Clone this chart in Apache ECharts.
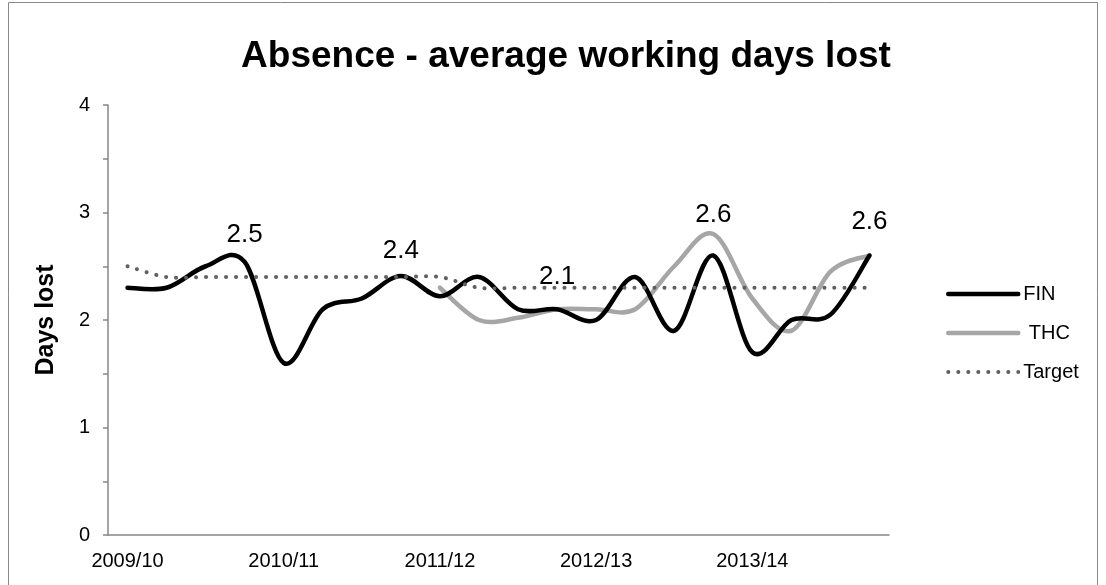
<!DOCTYPE html>
<html><head><meta charset="utf-8">
<script src="https://cdn.jsdelivr.net/npm/echarts@6/dist/echarts.min.js"></script>
<style>html,body{margin:0;padding:0;background:#fff}#c{width:1106px;height:585px}</style>
</head><body><div id="c"></div>
<script>
const categories = ['2009/10','','','','2010/11','','','','2011/12','','','','2012/13','','','','2013/14','','',''];
const finValues = [2.3, 2.3, 2.5, 2.54, 1.6, 2.1, 2.2, 2.41, 2.22, 2.4, 2.1, 2.1, 2.0, 2.4, 1.9, 2.6, 1.7, 2.0, 2.05, 2.6];
const thcValues = [null, null, null, null, null, null, null, null, 2.3, 2.0, 2.02, 2.1, 2.1, 2.1, 2.5, 2.8, 2.2, 1.9, 2.45, 2.6];
const targetValues = [2.5, 2.4, 2.4, 2.4, 2.4, 2.4, 2.4, 2.4, 2.4, 2.3, 2.3, 2.3, 2.3, 2.3, 2.3, 2.3, 2.3, 2.3, 2.3, 2.3];
const labelIndices = [3, 7, 11, 15, 19];
const seriesNames = ['FIN', ' THC', 'Target'];

const FONT = 'Liberation Sans, Arial, sans-serif';
const labelDist = {3: 13, 7: 11, 11: 18, 15: 27, 19: 20};

const styles = [
  {stroke: '#000', lineWidth: 4.5, lineCap: 'round', lineJoin: 'round'},
  {stroke: '#a6a6a6', lineWidth: 4.5, lineCap: 'round', lineJoin: 'round'},
  {stroke: '#606060', lineWidth: 4, lineCap: 'round', lineDash: [0.1, 9.9]}
];
const valueSets = [finValues, thcValues, targetValues];

// Excel-like (Catmull-Rom) smoothed line drawn through the axis scales
function smoothRenderer(values, style) {
  return function (params, api) {
    if (params.dataIndex !== 0) return null;
    const pts = [];
    values.forEach((v, i) => { if (v != null) pts.push(api.coord([i, v])); });
    let d = 'M' + pts[0][0] + ',' + pts[0][1];
    for (let k = 0; k < pts.length - 1; k++) {
      const p0 = pts[Math.max(k - 1, 0)], p1 = pts[k], p2 = pts[k + 1], p3 = pts[Math.min(k + 2, pts.length - 1)];
      const c1 = [p1[0] + (p2[0] - p0[0]) / 6, p1[1] + (p2[1] - p0[1]) / 6];
      const c2 = [p2[0] - (p3[0] - p1[0]) / 6, p2[1] - (p3[1] - p1[1]) / 6];
      d += ' C' + c1[0] + ',' + c1[1] + ' ' + c2[0] + ',' + c2[1] + ' ' + p2[0] + ',' + p2[1];
    }
    return {type: 'path', shape: {pathData: d}, style: Object.assign({fill: 'none'}, style), silent: true};
  };
}

const finData = finValues.map((v, i) => labelIndices.includes(i)
  ? {value: v, label: {show: true, position: 'top', distance: labelDist[i], fontSize: 26, fontFamily: FONT, color: '#000',
      formatter: p => (Math.round(p.value * 10) / 10).toFixed(1)}}
  : v);

const lineSeries = valueSets.map((vals, s) => ({
  name: seriesNames[s], type: 'line', data: s === 0 ? finData : vals,
  showSymbol: s === 0, symbol: 'circle', symbolSize: 2,
  itemStyle: {color: 'rgba(0,0,0,0)'},
  lineStyle: {opacity: 0}, emphasis: {disabled: true}, silent: true, z: 5
}));

const curveSeries = valueSets.map((vals, s) => ({
  name: seriesNames[s], type: 'custom', coordinateSystem: 'cartesian2d',
  data: vals.map((v, i) => [i, v]).filter(p => p[1] != null),
  encode: {x: 0, y: 1},
  renderItem: smoothRenderer(vals, styles[s]),
  silent: true, z: [3, 2, 4][s]
}));

const legendData = seriesNames.map((n, s) => ({
  name: n,
  itemStyle: {opacity: 0},
  lineStyle: {color: styles[s].stroke, width: styles[s].lineWidth, opacity: 1, cap: 'round',
    type: s === 2 ? [0.1, 9.9] : 'solid'}
}));

const chart = echarts.init(document.getElementById('c'), null, {renderer: 'canvas'});
chart.setOption({
  animation: false,
  backgroundColor: '#fff',
  graphic: [{type: 'rect', shape: {x: 8.5, y: 2.5, width: 1089, height: 620}, style: {fill: 'none', stroke: '#888', lineWidth: 1}, silent: true, z: -1}],
  title: {
    text: 'Absence - average working days lost',
    left: 561, top: 33, textAlign: 'center',
    textStyle: {fontFamily: FONT, fontWeight: 'bold', fontSize: 37, color: '#000'}
  },
  legend: {
    orient: 'vertical', left: 941, top: 279,
    itemWidth: 70, itemHeight: 14, itemGap: 19,
    textStyle: {fontFamily: FONT, fontSize: 20, color: '#000'},
    data: legendData
  },
  grid: {left: 108, right: 217, top: 105, bottom: 50, containLabel: false},
  xAxis: {
    type: 'category', data: categories, boundaryGap: true,
    axisLine: {lineStyle: {color: '#868686', width: 1.5}},
    axisTick: {interval: 0, length: 6, lineStyle: {color: '#868686', width: 1.5}},
    axisLabel: {interval: 0, margin: 16, fontFamily: FONT, fontSize: 20, color: '#000'},
    splitLine: {show: false}
  },
  yAxis: {
    type: 'value', min: 0, max: 4, interval: 0.5,
    name: 'Days lost', nameLocation: 'middle', nameGap: 49, nameRotate: 90,
    nameTextStyle: {fontFamily: FONT, fontWeight: 'bold', fontSize: 25, color: '#000'},
    axisLine: {show: true, lineStyle: {color: '#868686', width: 1.5}},
    axisTick: {show: true, length: 5, lineStyle: {color: '#868686', width: 1.5}},
    axisLabel: {margin: 18, fontFamily: FONT, fontSize: 20, color: '#000',
      formatter: v => (Math.abs(v - Math.round(v)) < 1e-9 ? String(Math.round(v)) : '')},
    splitLine: {show: false}
  },
  series: lineSeries.concat(curveSeries)
});
</script></body></html>
